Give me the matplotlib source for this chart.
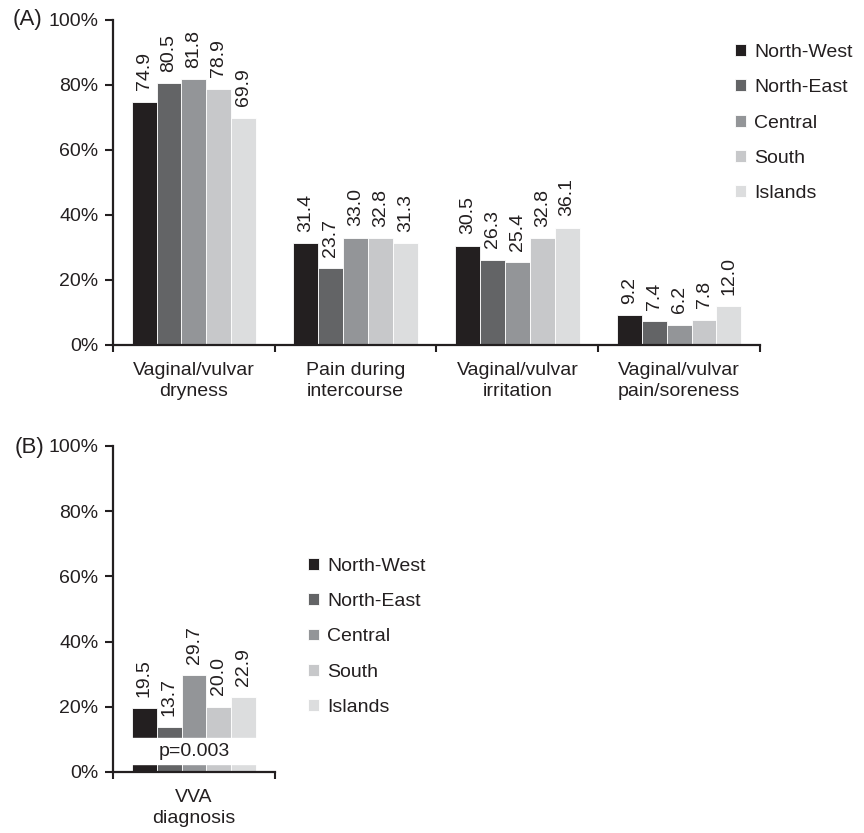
import numpy as np
import matplotlib.pyplot as plt

plt.rcParams['font.family'] = ['Liberation Sans', 'DejaVu Sans']

regions = ['North-West', 'North-East', 'Central', 'South', 'Islands']
colors = ['#231f20', '#636466', '#939598', '#c7c8ca', '#dcddde']

symptoms = ['Vaginal/vulvar\ndryness', 'Pain during\nintercourse',
            'Vaginal/vulvar\nirritation', 'Vaginal/vulvar\npain/soreness']
# rows = regions, columns = symptoms
symptom_vals = [
    [74.9, 31.4, 30.5, 9.2],
    [80.5, 23.7, 26.3, 7.4],
    [81.8, 33.0, 25.4, 6.2],
    [78.9, 32.8, 32.8, 7.8],
    [69.9, 31.3, 36.1, 12.0],
]

vva_label = ['VVA\ndiagnosis']
vva_vals = [19.5, 13.7, 29.7, 20.0, 22.9]
p_text = 'p=0.003'

yticks = [0, 20, 40, 60, 80, 100]
ytick_labels = ['0%', '20%', '40%', '60%', '80%', '100%']

FS = 14
INK = '#231f20'

fig = plt.figure(figsize=(8.64, 8.33), dpi=100)
axA = fig.add_axes([113 / 864, 1 - 345 / 833, 647 / 864, 325 / 833])
axB = fig.add_axes([113 / 864, 1 - 772 / 833, 162 / 864, 326 / 833])

width = 0.154
offsets = (np.arange(5) - 2) * width


def style_axis(ax, ngroups, labels):
    ax.set_ylim(0, 100)
    ax.set_xlim(0, ngroups)
    ax.set_yticks(yticks)
    ax.set_yticklabels(ytick_labels, fontsize=FS, color=INK)
    ax.set_xticks(np.arange(ngroups + 1))
    ax.set_xticklabels([])
    ax.set_xticks(np.arange(ngroups) + 0.5, minor=True)
    ax.set_xticklabels(labels, minor=True, fontsize=FS, linespacing=1.3,
                       color=INK)
    ax.tick_params(axis='x', which='minor', length=0, pad=12)
    ax.tick_params(axis='x', which='major', length=5, width=1.5,
                   direction='out', color=INK)
    ax.tick_params(axis='y', length=6, width=1.5, pad=4.5, color=INK)
    for s in ['top', 'right']:
        ax.spines[s].set_visible(False)
    for s in ['left', 'bottom']:
        ax.spines[s].set_linewidth(1.6)
        ax.spines[s].set_color(INK)


def add_legend(ax, anchor):
    ax.legend(loc='upper left', bbox_to_anchor=anchor, frameon=False,
              fontsize=FS, handlelength=0.57, handleheight=0.57,
              handletextpad=0.42, labelspacing=0.94, borderaxespad=0,
              borderpad=0, labelcolor=INK)


# panel A
x = np.arange(len(symptoms)) + 0.5
for i, reg in enumerate(regions):
    vals = symptom_vals[i]
    axA.bar(x + offsets[i], vals, width, color=colors[i], edgecolor='white',
            linewidth=0.6, label=reg)
    for xi, v in zip(x + offsets[i], vals):
        axA.text(xi, v + 3.5, f'{v:.1f}', rotation=90, ha='center',
                 va='bottom', fontsize=FS, color=INK)
style_axis(axA, len(symptoms), symptoms)
add_legend(axA, (0.961, 0.926))

# panel B
xb = np.array([0.5])
for i, reg in enumerate(regions):
    axB.bar(xb + offsets[i], [vva_vals[i]], width, color=colors[i],
            edgecolor='white', linewidth=0.6, label=reg)
    axB.text(xb[0] + offsets[i], vva_vals[i] + 3.5, f'{vva_vals[i]:.1f}',
             rotation=90, ha='center', va='bottom', fontsize=FS, color=INK)
# axis break band with p-value
axB.axhspan(2.6, 10.3, xmin=0.05, xmax=0.95, color='white', zorder=3)
axB.text(0.5, 6.4, p_text, ha='center', va='center', fontsize=FS,
         color=INK, zorder=4)
style_axis(axB, 1, vva_label)
add_legend(axB, (1.204, 0.657))

fig.text(13 / 864, 1 - 20 / 833, '(A)', fontsize=16, va='center', ha='left',
         color=INK)
fig.text(15 / 864, 1 - 448 / 833, '(B)', fontsize=16, va='center', ha='left',
         color=INK)

fig.savefig('out.png', dpi=100)
